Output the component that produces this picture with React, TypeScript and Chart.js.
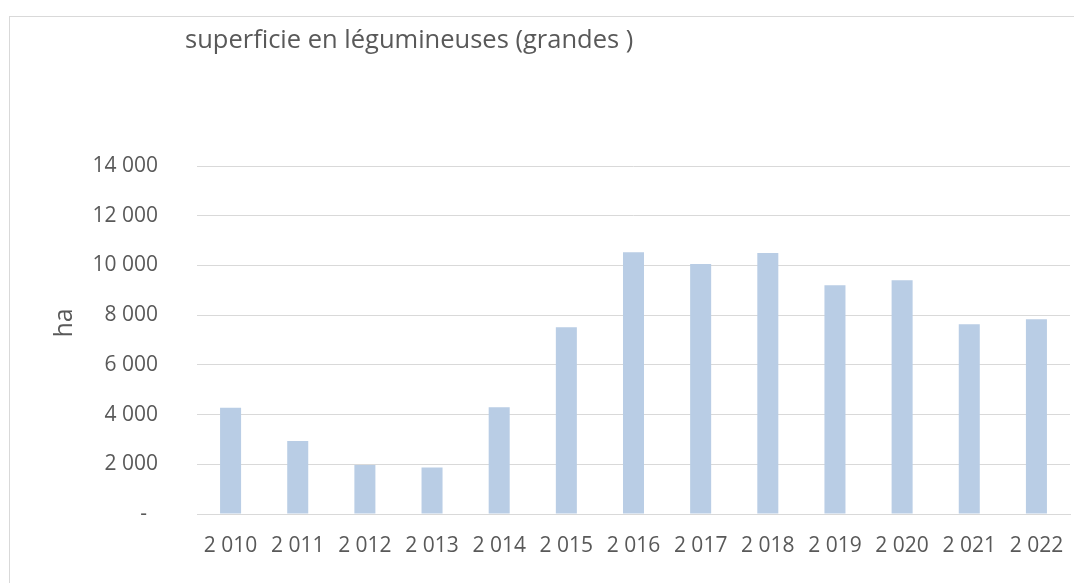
import React, { useEffect, useRef } from 'react';
import { Chart, registerables } from 'chart.js';

Chart.register(...registerables);

const categories = ['2 010', '2 011', '2 012', '2 013', '2 014', '2 015', '2 016', '2 017', '2 018', '2 019', '2 020', '2 021', '2 022'];
const surfaceHa = [4270, 2940, 1970, 1870, 4290, 7510, 10530, 10060, 10500, 9200, 9400, 7630, 7830];
const yMin = 0;
const yMax = 14000;
const yStep = 2000;
const chartTitle = 'superficie en légumineuses (grandes )';
const yAxisTitle = 'ha';

const TEXT = '#595959';
const GRID = '#d9d9d9';
const BAR = '#B9CDE5';

const fmt = (v: number) => (v === 0 ? '-  ' : String(v).replace(/\B(?=(\d{3})+(?!\d))/g, ' '));

const decorPlugin = {
  id: 'decor',
  beforeDraw(chart: any) {
    const ctx = chart.ctx;
    ctx.save();
    ctx.fillStyle = '#ffffff';
    ctx.fillRect(0, 0, chart.width, chart.height);
    ctx.strokeStyle = GRID;
    ctx.lineWidth = 1;
    ctx.strokeRect(9.5, 16.5, 3000, 3000);
    ctx.restore();
  },
  afterDraw(chart: any) {
    const ctx = chart.ctx;
    ctx.save();
    ctx.fillStyle = TEXT;
    ctx.font = '25.5px "Open Sans"';
    ctx.textBaseline = 'alphabetic';
    ctx.textAlign = 'left';
    ctx.fillText(chartTitle, 185, 48);
    ctx.font = '25px "Open Sans"';
    ctx.translate(72, 323);
    ctx.rotate(-Math.PI / 2);
    ctx.textAlign = 'center';
    ctx.fillText(yAxisTitle, 0, 0);
    ctx.restore();
  },
};

export default function App() {
  const ref = useRef<HTMLCanvasElement | null>(null);
  useEffect(() => {
    if (!ref.current) return;
    const chart = new Chart(ref.current, {
      type: 'bar',
      data: {
        labels: categories,
        datasets: [
          {
            label: chartTitle,
            data: surfaceHa,
            backgroundColor: BAR,
            borderWidth: 0,
            categoryPercentage: 1,
            barPercentage: 0.313,
          },
        ],
      },
      plugins: [decorPlugin],
      options: {
        animation: false,
        responsive: true,
        maintainAspectRatio: false,
        layout: { padding: { left: 45, right: 4, top: 166, bottom: 0 } },
        plugins: {
          legend: { display: false },
          title: { display: false },
          tooltip: { enabled: false },
        },
        scales: {
          x: {
            grid: { display: false, drawTicks: false },
            border: { display: true, color: GRID, width: 1 },
            ticks: {
              color: TEXT,
              font: { family: 'Open Sans', size: 21 },
              padding: 19,
              maxRotation: 0,
              autoSkip: false,
            },
            afterFit(scale: any) {
              scale.height = 69;
              scale.paddingLeft = 0;
              scale.paddingRight = 0;
            },
          },
          y: {
            min: yMin,
            max: yMax,
            grid: { color: GRID, lineWidth: 1, drawTicks: false },
            border: { display: false },
            ticks: {
              stepSize: yStep,
              color: TEXT,
              font: { family: 'Open Sans', size: 21 },
              padding: 39,
              callback: (v: any) => fmt(Number(v)),
            },
            afterFit(scale: any) {
              scale.width = 152;
              scale.paddingTop = 0;
              scale.paddingBottom = 0;
            },
          },
        },
      },
    });
    return () => chart.destroy();
  }, []);
  return (
    <div style={{ position: 'absolute', left: 0, top: 0, width: 1074, height: 583, background: '#fff' }}>
      <canvas ref={ref} />
    </div>
  );
}
